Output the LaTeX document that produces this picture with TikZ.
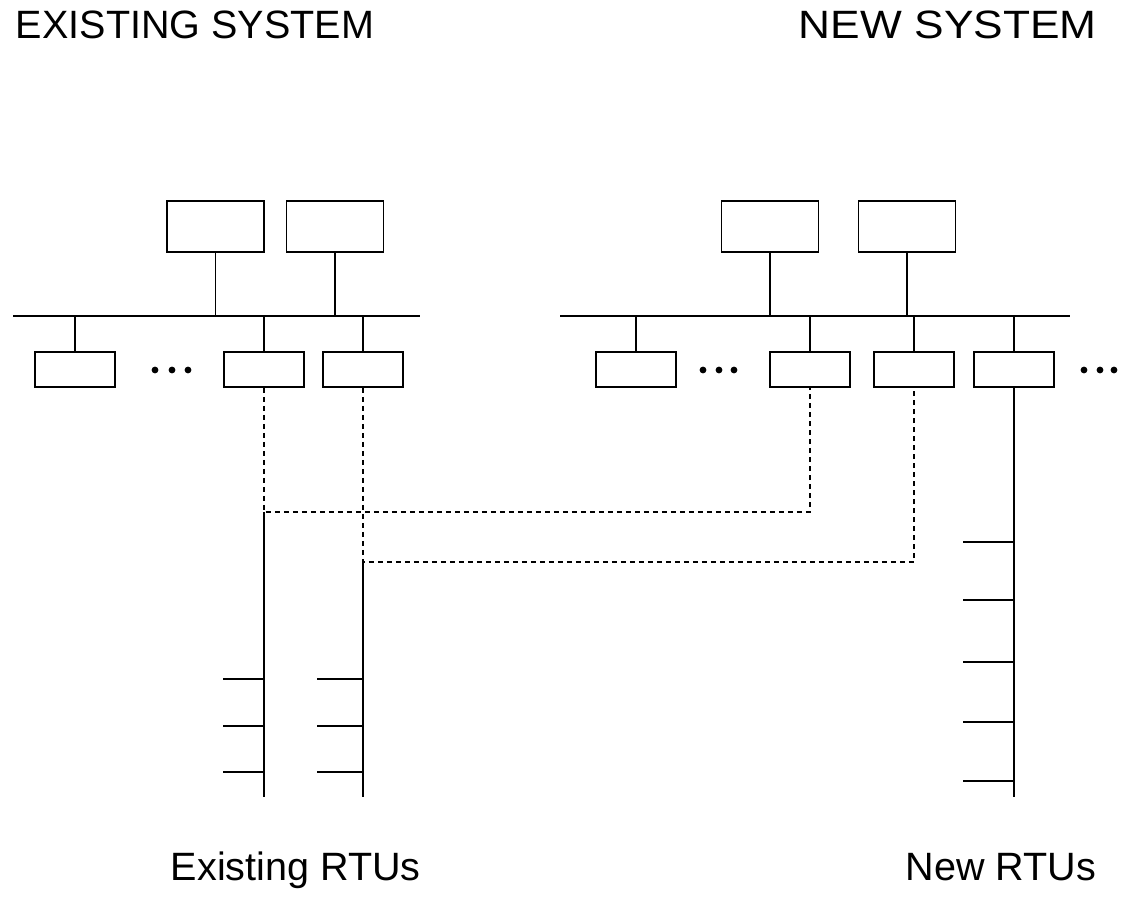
\documentclass[tikz,border=0pt]{standalone}
\usepackage{fontspec}
\setmainfont{Liberation Sans}

\begin{document}
\begin{tikzpicture}[x=0.02cm, y=-0.02cm, line width=1.05pt,
  unit/.style={draw, minimum width=1.94cm, minimum height=1.02cm, inner sep=0pt},
  port/.style={draw, minimum width=1.6cm, minimum height=0.7cm, inner sep=0pt},
  bus/.style={line width=1.45pt},
  link/.style={line width=0.95pt, dash pattern=on 0.1cm off 0.08cm},
  caption/.style={anchor=base west, inner sep=0pt, font=\fontsize{22.5}{27}\selectfont}]
\useasboundingbox (0,0) rectangle (1126,899);
\node[caption] (oldsys) at (15,38) {EXISTING SYSTEM};
\node[caption] (newsys) at (798,38) {\scalebox{1.12}[1]{NEW SYSTEM}};
\node[caption] (oldrtu) at (170,880) {Existing RTUs};
\node[caption] (newrtu) at (905,880) {New RTUs};
\node[unit] (lt1) at (215.5,226.5) {};
\node[unit] (lt2) at (335,226.5) {};
\node[unit] (rt1) at (770,226.5) {};
\node[unit] (rt2) at (907,226.5) {};
\node[port] (lb1) at (75,369.5) {};
\node[port] (lb2) at (264,369.5) {};
\node[port] (lb3) at (363,369.5) {};
\node[port] (rb1) at (636,369.5) {};
\node[port] (rb2) at (810,369.5) {};
\node[port] (rb3) at (914,369.5) {};
\node[port] (rb4) at (1014,369.5) {};
\coordinate (lbusw) at (13,316);
\coordinate (lbuse) at (420,316);
\coordinate (rbusw) at (560,316);
\coordinate (rbuse) at (1070,316);
\coordinate (j1) at (264,512);
\coordinate (j2) at (363,562);
\coordinate (e1) at (264,797);
\coordinate (e2) at (363,797);
\coordinate (e3) at (1014,797);
\draw[bus] (lbusw) -- (lbuse);
\draw[bus] (rbusw) -- (rbuse);
\path (lt1) edge (lt1 |- lbusw);
\path (lt2) edge (lt2 |- lbusw);
\path (rt1) edge (rt1 |- rbusw);
\path (rt2) edge (rt2 |- rbusw);
\path (lb1) edge (lb1 |- lbusw);
\path (lb2) edge (lb2 |- lbusw);
\path (lb3) edge (lb3 |- lbusw);
\path (rb1) edge (rb1 |- rbusw);
\path (rb2) edge (rb2 |- rbusw);
\path (rb3) edge (rb3 |- rbusw);
\path (rb4) edge (rb4 |- rbusw);
\draw[link] (lb2) -- (j1) -| (rb2);
\draw[link] (lb3) -- (j2) -| (rb3);
\draw (j1) -- (e1);
\draw (j2) -- (e2);
\draw (rb4) -- (e3);
\foreach \y in {679,726,772} {
  \draw (e1 |- 0,\y) -- ++(-41,0);
  \draw (e2 |- 0,\y) -- ++(-46,0);
}
\foreach \y in {542,600,662,722,781}
  \draw (e3 |- 0,\y) -- ++(-51,0);
\foreach \x in {155,172,188,703,719,734,1084,1100,1114}
  \fill (\x,370) circle (0.068cm);
\end{tikzpicture}
\end{document}
